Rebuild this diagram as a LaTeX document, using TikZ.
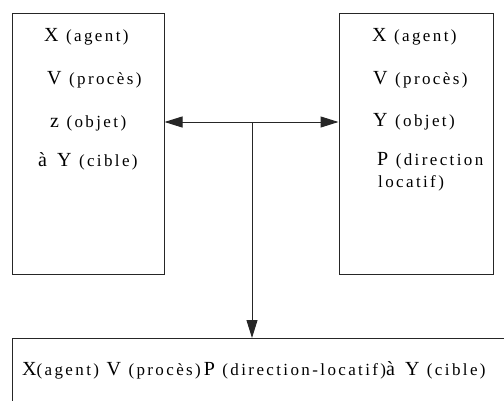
\documentclass[tikz,border=0pt]{standalone}
\usepackage{fontspec}
\usetikzlibrary{arrows.meta}
\newfontfamily\rmA{Liberation Serif}
\newfontfamily\rmB[LetterSpace=14]{Liberation Serif}
\newcommand\bgf{\rmA\fontsize{20}{22}\selectfont}
\newcommand\smf{\rmB\fontsize{17}{19}\selectfont}
\newcommand\gp{\hspace{7.5pt}}
\begin{document}
\begin{tikzpicture}[x=1pt,y=-1pt,
  box/.style={draw=black!85,line width=1pt,rectangle,inner sep=0pt},
  txt/.style={anchor=west,inner sep=0pt},
  arr/.style={draw=black!85,line width=1pt,-{Triangle[length=18pt,width=11pt]}}]
\useasboundingbox (0,0) rectangle (504,400);
\node[box,minimum width=152pt,minimum height=261pt] (L) at (88,143.5) {};
\node[box,minimum width=154pt,minimum height=261pt] (R) at (416,143.5) {};
\begin{scope}
\clip (0,0) rectangle (504,400);
\node[box,anchor=north west,minimum width=520pt,minimum height=80pt] (bot) at (12,338) {};
\end{scope}
% left box
\node[txt] (l1) at (44,37) {{\bgf X}\gp{\smf(agent)}};
\node[txt] (l2) at (47,80) {{\bgf V}\gp{\smf(procès)}};
\node[txt] (l3) at (50,123) {{\bgf z}\gp{\smf(objet)}};
\node[txt] (l4) at (38,161) {{\bgf à\hspace{10pt}Y}\gp{\smf(cible)}};
% right box
\node[txt] (r1) at (372,37) {{\bgf X}\gp{\smf(agent)}};
\node[txt] (r2) at (373,80) {{\bgf V}\gp{\smf(procès)}};
\node[txt] (r3) at (373,122) {{\bgf Y}\gp{\smf(objet)}};
\node[txt] (r4) at (377,161) {{\bgf P}\gp{\smf(direction}};
\node[txt] (r5) at (378,183) {{\smf locatif)}};
% bottom
\node[txt] (b1) at (22,370) {{\bgf X}{\smf(agent)}\gp{\bgf V}\gp{\smf(procès)}\hspace{3pt}{\bgf P}\gp{\smf(direction-locatif)}{\bgf à\hspace{10pt}Y}\gp{\smf(cible)}};
% connectors
\coordinate (jn) at (252,122);
\draw[arr] (jn) -- (jn -| L.east);
\draw[arr] (jn) -- (jn -| R.west);
\draw[arr] (jn) -- (jn |- bot.north);
\end{tikzpicture}
\end{document}
